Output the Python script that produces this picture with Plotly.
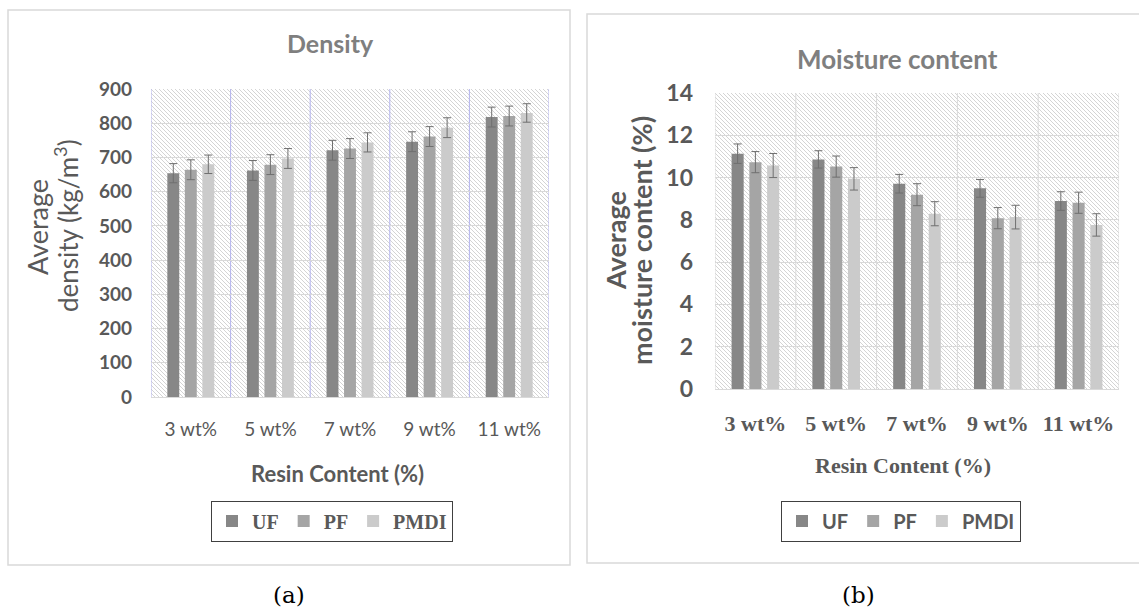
import base64
import plotly.graph_objects as go

# ---- data -------------------------------------------------------------
categories = ["3 wt%", "5 wt%", "7 wt%", "9 wt%", "11 wt%"]
resins = ["UF", "PF", "PMDI"]

density_uf = [654, 662, 721, 746, 818]
density_pf = [664, 679, 726, 761, 821]
density_pmdi = [680, 697, 744, 787, 830]
density_err_uf = [28, 29, 29, 29, 29]
density_err_pf = [29, 29, 29, 29, 29]
density_err_pmdi = [27, 29, 28, 29, 27]

moisture_uf = [11.13, 10.86, 9.71, 9.49, 8.89]
moisture_pf = [10.73, 10.52, 9.19, 8.08, 8.81]
moisture_pmdi = [10.57, 9.94, 8.29, 8.13, 7.76]
moisture_err_uf = [0.46, 0.41, 0.44, 0.42, 0.44]
moisture_err_pf = [0.50, 0.50, 0.52, 0.50, 0.50]
moisture_err_pmdi = [0.57, 0.53, 0.57, 0.56, 0.53]

# ---- styling ----------------------------------------------------------
W, H = 1139, 610
bar_colors = {"UF": "#878787", "PF": "#a5a5a5", "PMDI": "#cbcbcb"}
err_color = "#6f6f6f"
tick_color = "#595959"
title_color = "#7f7f7f"
SANS = "Lato, 'Open Sans', sans-serif"
SERIF = "'Liberation Serif', 'Times New Roman', serif"


def px(x):
    return x / W


def py(y):
    return 1 - y / H


def hatch_uri(w, h):
    svg = (
        f"<svg xmlns='http://www.w3.org/2000/svg' width='{w}' height='{h}'>"
        "<defs><pattern id='p' width='4' height='4' patternUnits='userSpaceOnUse'>"
        "<rect width='4' height='4' fill='#ffffff'/>"
        "<path d='M-1,-1 L5,5 M-1,3 L1,5 M3,-1 L5,1' stroke='#d4d4d4' stroke-width='1'/>"
        "</pattern></defs>"
        f"<rect width='{w}' height='{h}' fill='url(#p)'/></svg>"
    )
    return "data:image/svg+xml;base64," + base64.b64encode(svg.encode()).decode()


# plot areas in pixels: (left, top, right, bottom)
A = (151, 89, 549, 397)
B = (715, 93, 1119, 389)

fig = go.Figure()

x_idx = list(range(len(categories)))

dens = {"UF": (density_uf, density_err_uf),
        "PF": (density_pf, density_err_pf),
        "PMDI": (density_pmdi, density_err_pmdi)}
mois = {"UF": (moisture_uf, moisture_err_uf),
        "PF": (moisture_pf, moisture_err_pf),
        "PMDI": (moisture_pmdi, moisture_err_pmdi)}

for r in resins:
    vals, errs = dens[r]
    fig.add_trace(go.Bar(
        x=x_idx, y=vals, name=r, marker_color=bar_colors[r], marker_line_width=0,
        error_y=dict(type="data", array=errs, color=err_color, thickness=1, width=4),
        xaxis="x", yaxis="y", legend="legend",
    ))
for r in resins:
    vals, errs = mois[r]
    fig.add_trace(go.Bar(
        x=x_idx, y=vals, name=r, marker_color=bar_colors[r], marker_line_width=0,
        error_y=dict(type="data", array=errs, color=err_color, thickness=1, width=4),
        xaxis="x2", yaxis="y2", legend="legend2",
    ))

bounds = [i - 0.5 for i in range(len(categories) + 1)]

common_x = dict(range=[-0.5, len(categories) - 0.5], tickvals=x_idx, ticktext=categories,
                showgrid=False, zeroline=False, showline=False, ticks="",
                fixedrange=True)

fig.update_layout(
    width=W, height=H,
    margin=dict(l=0, r=0, t=0, b=0, autoexpand=False),
    paper_bgcolor="white",
    plot_bgcolor="rgba(0,0,0,0)",
    barmode="group", bargap=0.34, bargroupgap=0.32,
    xaxis=dict(common_x, domain=[px(A[0]), px(A[2])], anchor="y",
               tickfont=dict(family=SANS, size=19, color=tick_color),
               ticklabelstandoff=19),
    yaxis=dict(domain=[py(A[3]), py(A[1])], anchor="x", range=[0, 900], dtick=100,
               gridcolor="#d9d9d9", gridwidth=1, zeroline=True, zerolinecolor="#d9d9d9",
               zerolinewidth=1, showline=False, ticks="", ticklabelstandoff=18,
               tickfont=dict(family=SANS, size=19, color=tick_color, weight=700)),
    xaxis2=dict(common_x, domain=[px(B[0]), px(B[2])], anchor="y2",
                tickfont=dict(family=SERIF, size=22, color=tick_color, weight=700),
                ticklabelstandoff=19),
    yaxis2=dict(domain=[py(B[3]), py(B[1])], anchor="x2", range=[0, 14], dtick=2,
                gridcolor="#d9d9d9", gridwidth=1, zeroline=True, zerolinecolor="#d9d9d9",
                zerolinewidth=1, showline=False, ticks="", ticklabelstandoff=21,
                tickfont=dict(family=SANS, size=23, color=tick_color, weight=700)),
    legend=dict(orientation="h", x=px(332), y=py(521), xanchor="center", yanchor="middle",
                bordercolor="#404040", borderwidth=1, bgcolor="white",
                font=dict(family=SERIF, size=20, color=tick_color, weight=700),
                itemwidth=30, tracegroupgap=0),
    legend2=dict(orientation="h", x=px(901), y=py(521), xanchor="center", yanchor="middle",
                 bordercolor="#404040", borderwidth=1, bgcolor="white",
                 font=dict(family=SANS, size=20, color=tick_color, weight=700),
                 itemwidth=30, tracegroupgap=0),
    showlegend=True,
)

# hatched plot backgrounds
for (l, t, r, b) in (A, B):
    fig.add_layout_image(
        source=hatch_uri(r - l, b - t), xref="paper", yref="paper",
        x=px(l), y=py(t), sizex=px(r) - px(l), sizey=py(t) - py(b),
        xanchor="left", yanchor="top", sizing="stretch", layer="below",
    )

# category separators
for xb in bounds:
    fig.add_shape(type="line", xref="x", yref="y domain", x0=xb, x1=xb, y0=0, y1=1,
                  line=dict(color="#b3b3ee", width=1), layer="below")
    fig.add_shape(type="line", xref="x2", yref="y2 domain", x0=xb, x1=xb, y0=0, y1=1,
                  line=dict(color="#d9d9d9", width=1), layer="below")

# panel frames
fig.add_shape(type="rect", xref="paper", yref="paper",
              x0=px(8), y0=py(565), x1=px(570), y1=py(10),
              line=dict(color="#d9d9d9", width=1.5), layer="below")
fig.add_shape(type="rect", xref="paper", yref="paper",
              x0=px(587), y0=py(563), x1=px(1145), y1=py(14),
              line=dict(color="#d9d9d9", width=1.5), layer="below")

ann = [
    dict(text="<b>Density</b>", x=px(330), y=py(43),
         font=dict(family=SANS, size=25, color=title_color)),
    dict(text="<b>Moisture content</b>", x=px(897), y=py(59),
         font=dict(family=SANS, size=26, color=title_color)),
    dict(text="Average", x=px(37), y=py(227), textangle=-90,
         font=dict(family=SANS, size=27, color=tick_color)),
    dict(text="density (kg/m<sup>3</sup>)", x=px(66), y=py(226), textangle=-90,
         font=dict(family=SANS, size=26, color=tick_color)),
    dict(text="<b>Average</b>", x=px(616), y=py(241), textangle=-90,
         font=dict(family=SANS, size=27, color=tick_color)),
    dict(text="<b>moisture content (%)</b>", x=px(642), y=py(241), textangle=-90,
         font=dict(family=SANS, size=27, color=tick_color)),
    dict(text="<b>Resin Content (%)</b>", x=px(337), y=py(473),
         font=dict(family=SANS, size=22, color=tick_color)),
    dict(text="<b>Resin Content (%)</b>", x=px(903), y=py(465),
         font=dict(family=SERIF, size=22, color=tick_color)),
    dict(text="(a)", x=px(289), y=py(595),
         font=dict(family="'DejaVu Serif', serif", size=23, color="#000000")),
    dict(text="(b)", x=px(858), y=py(595),
         font=dict(family="'DejaVu Serif', serif", size=23, color="#000000")),
]
for a in ann:
    fig.add_annotation(xref="paper", yref="paper", showarrow=False,
                       xanchor="center", yanchor="middle", **a)

fig.write_html("out.html")
